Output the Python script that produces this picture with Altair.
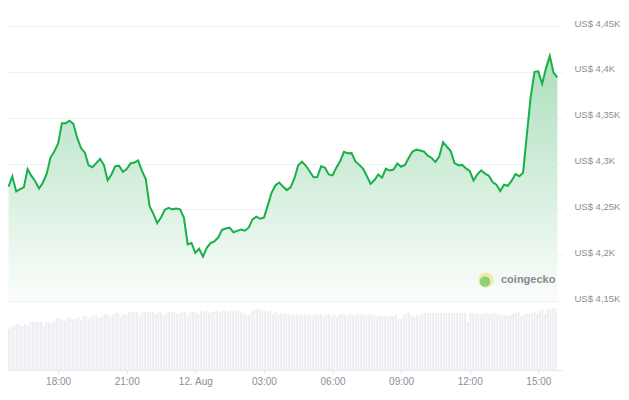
import altair as alt
import pandas as pd

# ---- data ----
price_start = "2025-08-11 15:50"
price_step_min = 10
prices = [
    4274.7, 4286.0, 4269.5, 4272.0, 4274.0, 4294.0, 4286.5, 4280.6, 4272.8, 4279.0,
    4288.6, 4306.5, 4313.0, 4322.0, 4344.0, 4343.8, 4346.7, 4343.4, 4328.2, 4316.8,
    4312.1, 4298.0, 4296.0, 4300.4, 4305.0, 4298.6, 4281.7, 4288.0, 4297.2, 4297.6,
    4291.0, 4294.0, 4300.0, 4301.0, 4303.3, 4292.0, 4283.0, 4253.4, 4245.0, 4235.0,
    4241.0, 4249.5, 4251.6, 4250.0, 4251.0, 4250.0, 4241.0, 4211.7, 4213.3, 4202.5,
    4207.0, 4198.5, 4208.0, 4213.2, 4215.0, 4219.2, 4227.7, 4229.0, 4230.0, 4225.0,
    4226.5, 4228.0, 4226.7, 4230.0, 4239.0, 4242.0, 4239.7, 4241.0, 4254.0, 4268.0,
    4276.0, 4279.2, 4275.0, 4271.0, 4274.0, 4283.7, 4298.0, 4302.0, 4297.5, 4291.6,
    4285.0, 4285.3, 4297.0, 4295.6, 4288.0, 4287.0, 4295.5, 4302.3, 4312.8, 4311.1,
    4311.4, 4302.3, 4298.5, 4294.5, 4286.3, 4277.8, 4282.0, 4288.0, 4284.5, 4294.3,
    4292.3, 4293.4, 4300.0, 4296.5, 4298.4, 4306.3, 4313.0, 4315.1, 4314.2, 4313.0,
    4308.5, 4306.0, 4301.8, 4307.6, 4323.4, 4318.3, 4313.8, 4300.5, 4298.2, 4298.5,
    4294.7, 4291.8, 4281.5, 4288.2, 4292.6, 4289.0, 4286.7, 4279.8, 4277.0, 4270.0,
    4276.8, 4275.7, 4281.3, 4288.5, 4286.2, 4290.0, 4332.0, 4373.0, 4400.0, 4400.5,
    4387.0, 4403.8, 4417.4, 4399.0, 4394.0,
]

volume_start = "2025-08-11 15:51"
volume_step_min = 7
volumes = [
    41, 43, 45, 46, 46, 44, 46, 45,
    48, 48, 48, 48, 48, 44, 48,
    48, 47, 49, 52, 52, 50, 49, 52,
    53, 51, 51, 53, 50, 55, 54,
    51, 53, 55, 54, 52, 54, 56,
    56, 53, 55, 57, 57, 53, 56, 55,
    58, 58, 58, 58, 54, 58, 58,
    58, 58, 58, 56, 58, 58, 55,
    57, 58, 58, 58, 56, 57, 58, 58, 55, 58, 58,
    58, 56, 59, 58, 59, 57, 58, 59, 59, 58, 60, 59, 58, 59,
    59, 60, 60, 58, 57, 55, 55, 58, 60, 61, 60,
    60, 59, 58, 59, 56, 58, 55, 57, 57, 56, 56,
    56, 55, 56, 56, 55, 56, 56, 55, 54, 56, 55, 56, 54, 56, 56,
    54, 55, 53, 56, 56, 55, 54, 56, 55, 55, 56, 55, 56, 55,
    56, 55, 55, 54, 55, 54, 54, 53, 54, 54, 55, 51, 51, 55, 57,
    57, 54, 53, 55, 54, 57, 57, 57, 57, 57, 57, 57, 57, 57, 57,
    57, 57, 57, 57, 57, 57, 57, 48, 57, 57, 56, 56, 56, 56, 57,
    56, 56, 57, 56, 56, 55, 55, 54, 55, 57, 57, 58, 54, 55, 56,
    56, 57, 58, 56, 59, 61, 56, 61, 61, 62, 61,
]

y_ticks = [4150, 4200, 4250, 4300, 4350, 4400, 4450]
x_ticks = ["2025-08-11 18:00", "2025-08-11 21:00", "2025-08-12 00:00",
           "2025-08-12 03:00", "2025-08-12 06:00", "2025-08-12 09:00",
           "2025-08-12 12:00", "2025-08-12 15:00"]
x_domain = ["2025-08-11 15:51:10", "2025-08-12 15:48:58"]
price_domain = [4074.73, 4469.64]
brand = ["coingecko"]


def ms(ts):
    return int(pd.Timestamp(ts, tz="UTC").value // 10**6)


price_df = pd.DataFrame({
    "t": [ms(price_start) + i * price_step_min * 60000 for i in range(len(prices))],
    "price": prices,
})
price_df["base"] = y_ticks[0]

vol_df = pd.DataFrame({
    "t": [ms(volume_start) + i * volume_step_min * 60000 for i in range(len(volumes))],
    "volume": volumes,
})

FONT = "Liberation Sans"
LABEL_COLOR = "#8a8f98"

x_enc = alt.X(
    "t:T",
    scale=alt.Scale(type="utc", domain=[ms(d) for d in x_domain], nice=False),
    axis=alt.Axis(
        values=[ms(v) for v in x_ticks],
        labelExpr="utcFormat(datum.value, '%H:%M') == '00:00' ? utcFormat(datum.value, '%d. %b') : utcFormat(datum.value, '%H:%M')",
        title=None, grid=False,
        domainColor="#e6e9ee", tickColor="#e6e9ee", tickSize=4,
        labelPadding=2, labelFont=FONT, labelFontSize=10, labelColor=LABEL_COLOR,
        labelFlush=False,
    ),
)

volume = alt.Chart(vol_df).mark_bar(size=2, color="#eceef2").encode(
    x=x_enc,
    y=alt.Y("volume:Q", scale=alt.Scale(domain=[0, 362], nice=False), axis=None),
)

y_price = alt.Y(
    "price:Q",
    scale=alt.Scale(domain=price_domain, nice=False, zero=False),
    axis=alt.Axis(
        orient="right", values=y_ticks, title=None,
        labelExpr="'US$ ' + replace(format(datum.value / 1000, '.2~f'), '.', ',') + 'K'",
        grid=True, gridColor="#f0f1f3", gridWidth=1,
        domain=False, ticks=False, labelPadding=12, labelOffset=-3,
        labelFont=FONT, labelFontSize=9.5, labelColor=LABEL_COLOR,
    ),
)

area = alt.Chart(price_df).mark_area(
    color=alt.Gradient(
        gradient="linear",
        stops=[alt.GradientStop(color="#acdfbd", offset=0),
               alt.GradientStop(color="#fbfdfb", offset=1)],
        x1=0, x2=0, y1=0, y2=1,
    ),
    clip=False,
).encode(x=x_enc, y=y_price, y2="base:Q")

line = alt.Chart(price_df).mark_line(color="#18b04a", strokeWidth=2, clip=False).encode(
    x=x_enc, y=y_price,
)

logo_df = pd.DataFrame({"name": brand})
logo_bg = alt.Chart(logo_df).mark_circle(size=230, color="#f4e8a4", opacity=1).encode(
    x=alt.value(482), y=alt.value(272))
logo_fg = alt.Chart(logo_df).mark_circle(size=110, color="#8fcf7f", opacity=1).encode(
    x=alt.value(481), y=alt.value(273.5))
logo_text = alt.Chart(logo_df).mark_text(
    align="left", baseline="middle", font=FONT, fontSize=11, fontWeight="bold",
    color="#868a90",
).encode(x=alt.value(497), y=alt.value(272), text="name:N")

price_layer = alt.layer(area, line)

chart = alt.layer(volume, price_layer, logo_bg, logo_fg, logo_text).resolve_scale(
    y="independent"
).properties(
    width=558, height=362,
    autosize=alt.AutoSizeParams(type="none"),
    padding={"left": -4, "top": 0, "right": 59, "bottom": 17},
    background="white",
).configure_view(stroke=None)

chart.save("out.html", embed_options={"renderer": "svg", "actions": False})
